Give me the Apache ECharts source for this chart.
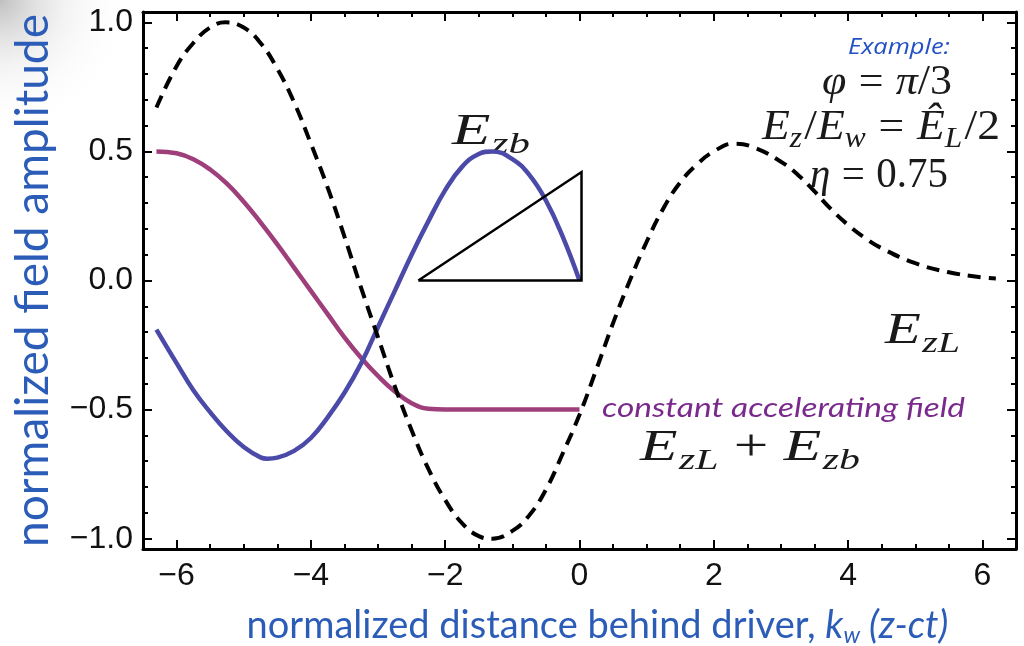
<!DOCTYPE html>
<html>
<head>
<meta charset="utf-8">
<script src="https://cdn.jsdelivr.net/npm/echarts@6/dist/echarts.min.js"></script>
<style>
html,body{margin:0;padding:0;background:#fff;}
#chart{width:1024px;height:646px;}
</style>
</head>
<body>
<div id="chart"></div>
<script>
// ---------------- data ----------------
// E_zL : laser wakefield (dashed black)
const xLaser = [-6.3,-6.0,-5.75,-5.5,-5.27,-5.0,-4.75,-4.5,-4.25,-4.0,-3.75,-3.5,-3.25,-3.0,-2.75,-2.5,-2.25,-2.0,-1.75,-1.5,-1.3,-1.0,-0.75,-0.5,-0.25,0,0.25,0.5,0.75,1.0,1.25,1.5,1.75,2.0,2.3,2.6,3.0,3.25,3.5,3.75,4.0,4.25,4.5,5.0,5.5,6.0,6.2];
const ezL    = [0.67,0.83,0.92,0.98,1.0,0.98,0.92,0.82,0.69,0.53,0.36,0.17,-0.03,-0.22,-0.41,-0.58,-0.73,-0.85,-0.94,-0.99,-1.0,-0.97,-0.91,-0.81,-0.67,-0.52,-0.345,-0.165,0.0,0.15,0.28,0.38,0.45,0.50,0.53,0.515,0.46,0.41,0.345,0.275,0.215,0.165,0.125,0.067,0.032,0.012,0.008];

// E_zb : beam field (blue)
const xBeam  = [-6.3,-6.0,-5.75,-5.5,-5.25,-5.0,-4.75,-4.65,-4.5,-4.25,-4.0,-3.75,-3.5,-3.25,-3.0,-2.75,-2.5,-2.25,-2.0,-1.75,-1.5,-1.3,-1.0,-0.75,-0.5,-0.25,0];
const ezb    = [-0.19,-0.32,-0.425,-0.51,-0.585,-0.645,-0.685,-0.69,-0.686,-0.66,-0.61,-0.53,-0.435,-0.32,-0.18,-0.04,0.10,0.23,0.35,0.44,0.49,0.50,0.47,0.41,0.31,0.17,0.0];

// E_zL + E_zb : constant accelerating field (magenta)
const xSum   = [-6.3,-6.0,-5.75,-5.5,-5.25,-5.0,-4.75,-4.5,-4.25,-4.0,-3.75,-3.5,-3.25,-3.0,-2.75,-2.5,-2.25,-2.0,-1.5,-1.0,-0.5,0];
const ezSum  = [0.50,0.493,0.47,0.43,0.375,0.305,0.225,0.14,0.05,-0.04,-0.13,-0.22,-0.30,-0.37,-0.43,-0.475,-0.497,-0.50,-0.50,-0.50,-0.50,-0.50];

// triangle sketch
const triX = [-2.4, 0.03, 0.03, -2.4];
const triY = [0, 0, 0.42, 0];

const xTicksMajor = [-6,-4,-2,0,2,4,6];
const xTicksMinor = [-5.5,-5,-4.5,-3.5,-3,-2.5,-1.5,-1,-0.5,0.5,1,1.5,2.5,3,3.5,4.5,5,5.5];
const yTicksMajor = [-1,-0.5,0,0.5,1];
const yTicksMinor = [-0.9,-0.8,-0.7,-0.6,-0.4,-0.3,-0.2,-0.1,0.1,0.2,0.3,0.4,0.6,0.7,0.8,0.9];

const X_MIN = -6.5, X_MAX = 6.5, Y_MIN = -1.04, Y_MAX = 1.04;

// ---------------- helpers ----------------
const zip = (xs, ys) => xs.map((x, i) => [x, ys[i]]);
const minus = v => (v < 0 ? '\u2212' + String(Math.abs(v)) : String(v));

const measureCtx = document.createElement('canvas').getContext('2d');
function textWidth(t, font) { measureCtx.font = font; return measureCtx.measureText(t).width; }
const MATH = '"Liberation Serif", "DejaVu Serif", serif';
const MATH_COLOR = '#1a1a1a';

function mathGroup(left, baseline, targetWidth, pieces) {
  let cx = 0;
  const children = [];
  pieces.forEach(p => {
    const font = (p.it ? 'italic ' : '') + p.size + 'px ' + MATH;
    cx += p.pre || 0;
    children.push({
      type: 'text', x: cx, y: (p.dy || 0) - 0.34 * p.size,
      style: { text: p.t, font: font, fill: MATH_COLOR,
               align: 'left', verticalAlign: 'middle', textAlign: 'left', textVerticalAlign: 'middle' }
    });
    cx += textWidth(p.t, font) + (p.post || 0);
  });
  return { type: 'group', x: left, y: baseline, scaleX: targetWidth / cx, children: children };
}
function plainText(left, centerY, targetWidth, text, font, color) {
  const w = textWidth(text, font);
  return {
    type: 'group', x: left, y: centerY, scaleX: targetWidth / w,
    children: [{ type: 'text', x: 0, y: 0,
      style: { text: text, font: font, fill: color, align: 'left', verticalAlign: 'middle', textAlign: 'left', textVerticalAlign: 'middle' } }]
  };
}

const M = 42, S = 29;
const eq = { t: '=', size: M, pre: 0.28 * M, post: 0.28 * M };
const annotations = [
  mathGroup(452, 147, 78, [{ t: 'E', size: 44, it: true }, { t: 'zb', size: 30, it: true, dy: 8, pre: 1 }]),
  mathGroup(822, 97, 130, [{ t: '\u03C6', size: M, it: true }, eq, { t: '\u03C0', size: M, it: true }, { t: '/3', size: M }]),
  mathGroup(762, 142, 238, [
    { t: 'E', size: M, it: true }, { t: 'z', size: S, it: true, dy: 7 },
    { t: '/', size: M, pre: 2 }, { t: 'E', size: M, it: true }, { t: 'w', size: S, it: true, dy: 7 },
    eq, { t: '\u00CA', size: M, it: true }, { t: 'L', size: S, it: true, dy: 7 }, { t: '/2', size: M, pre: 2 }]),
  mathGroup(810, 190, 138, [{ t: '\u03B7', size: M, it: true }, eq, { t: '0.75', size: M }]),
  mathGroup(885, 346, 75, [{ t: 'E', size: 44, it: true }, { t: 'zL', size: 30, it: true, dy: 8, pre: 1 }]),
  mathGroup(640, 463, 220, [
    { t: 'E', size: 44, it: true }, { t: 'zL', size: 30, it: true, dy: 8, pre: 1 },
    { t: '+', size: 44, pre: 0.25 * 44, post: 0.25 * 44 },
    { t: 'E', size: 44, it: true }, { t: 'zb', size: 30, it: true, dy: 8, pre: 1 }]),
  plainText(848, 48, 102, 'Example:', 'italic 21px "Open Sans", Lato, sans-serif', '#2350c4'),
  plainText(602, 408, 363, 'constant accelerating field', 'italic 27px Lato, "Open Sans", sans-serif', '#7a2a8c')
];

// ---------------- axes ----------------
const AXIS_BLACK = '#000';
const TICK_FONT = '"Liberation Sans", Arial, sans-serif';
function xAxisDef(position, values, len, withLine, withLabel, extra) {
  return Object.assign({
    type: 'value', position: position, min: X_MIN, max: X_MAX,
    axisLine: { show: withLine, onZero: false, lineStyle: { color: AXIS_BLACK, width: 3 } },
    axisTick: { show: true, inside: true, length: len, customValues: values, lineStyle: { color: AXIS_BLACK, width: 2 } },
    axisLabel: withLabel ? { show: true, customValues: values, formatter: v => minus(v),
      fontFamily: TICK_FONT, fontSize: 32, color: '#111', margin: 11 } : { show: false },
    splitLine: { show: false }
  }, extra || {});
}
function yAxisDef(position, values, len, withLine, withLabel, extra) {
  return Object.assign({
    type: 'value', position: position, min: Y_MIN, max: Y_MAX,
    axisLine: { show: withLine, onZero: false, lineStyle: { color: AXIS_BLACK, width: 3 } },
    axisTick: { show: true, inside: true, length: len, customValues: values, lineStyle: { color: AXIS_BLACK, width: 2 } },
    axisLabel: withLabel ? { show: true, customValues: values,
      formatter: v => (v < 0 ? '\u2212' + Math.abs(v).toFixed(1) : v.toFixed(1)),
      fontFamily: TICK_FONT, fontSize: 32, color: '#111', margin: 10 } : { show: false },
    splitLine: { show: false }
  }, extra || {});
}

const BLUE_LABEL = '#2b5cb8';
const LABEL_FONT = 'Lato, "Open Sans", sans-serif';

const option = {
  animation: false,
  backgroundColor: '#ffffff',
  grid: { left: 143, top: 12, width: 873, height: 537, containLabel: false, outerBoundsMode: 'none' },
  xAxis: [
    xAxisDef('bottom', xTicksMajor, 9, true, true, {
      name: 'normalized distance behind driver, {i|k}{s|w}{i| (z-ct)}',
      nameLocation: 'middle', nameGap: 56,
      nameTextStyle: { fontFamily: LABEL_FONT, fontSize: 38, color: BLUE_LABEL,
        lineHeight: 42, padding: [0, 0, 0, 36],
        rich: {
          i: { fontFamily: LABEL_FONT, fontStyle: 'italic', fontSize: 38, color: BLUE_LABEL, lineHeight: 42 },
          s: { fontFamily: LABEL_FONT, fontStyle: 'italic', fontSize: 23, color: BLUE_LABEL, lineHeight: 26, verticalAlign: 'bottom' }
        } }
    }),
    xAxisDef('bottom', xTicksMinor, 5, false, false),
    xAxisDef('top', xTicksMajor, 9, true, false),
    xAxisDef('top', xTicksMinor, 5, false, false)
  ],
  yAxis: [
    yAxisDef('left', yTicksMajor, 9, true, true, {
      name: 'normalized field amplitude', nameLocation: 'middle', nameGap: 87,
      nameTextStyle: { fontFamily: LABEL_FONT, fontSize: 46, color: BLUE_LABEL }
    }),
    yAxisDef('left', yTicksMinor, 5, false, false),
    yAxisDef('right', yTicksMajor, 9, true, false),
    yAxisDef('right', yTicksMinor, 5, false, false)
  ],
  graphic: [
    { type: 'rect', z: -10, silent: true, shape: { x: 0, y: 0, width: 150, height: 150 },
      style: { fill: new echarts.graphic.RadialGradient(0, 0, 0.9, [
        { offset: 0, color: 'rgba(150,150,150,0.6)' },
        { offset: 0.5, color: 'rgba(210,210,210,0.25)' },
        { offset: 1, color: 'rgba(255,255,255,0)' }]) } }
  ].concat(annotations),
  series: [
    { name: 'constant accelerating field', type: 'line', data: zip(xSum, ezSum), smooth: 0.45, showSymbol: false,
      lineStyle: { color: '#9e3f7b', width: 4.5 }, z: 3 },
    { name: 'E_zb', type: 'line', data: zip(xBeam, ezb), smooth: 0.45, showSymbol: false,
      lineStyle: { color: '#4b4aa8', width: 4.5 }, z: 4 },
    { name: 'triangle', type: 'line', data: zip(triX, triY), smooth: false, showSymbol: false,
      lineStyle: { color: '#000', width: 2.5, join: 'miter' }, z: 5 },
    { name: 'E_zL', type: 'line', data: zip(xLaser, ezL), smooth: 0.45, showSymbol: false,
      lineStyle: { color: '#000', width: 4, type: [13, 8] }, z: 6 }
  ]
};

const chart = echarts.init(document.getElementById('chart'), null, { renderer: 'canvas' });
chart.setOption(option);
</script>
</body>
</html>
